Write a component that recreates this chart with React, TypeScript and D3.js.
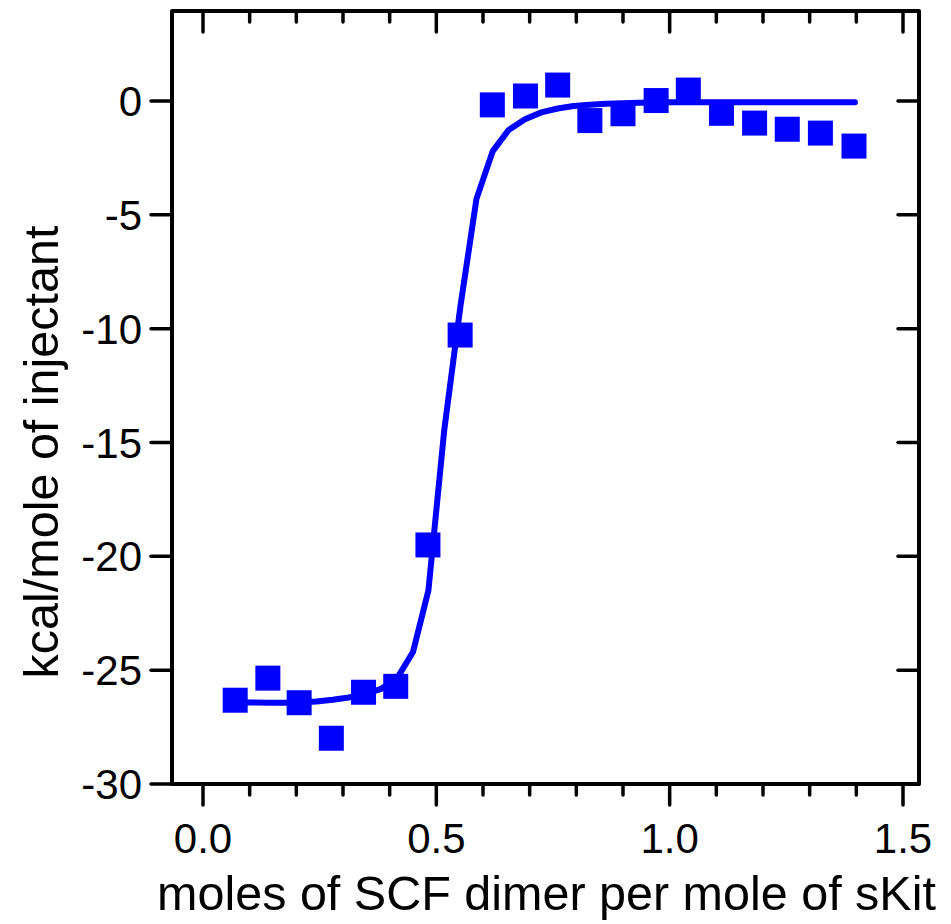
import React from "react";
import * as d3 from "d3";

const moleRatio = [0.069, 0.139, 0.206, 0.275, 0.344, 0.413, 0.482, 0.551, 0.620, 0.691, 0.760, 0.829, 0.900, 0.971, 1.040, 1.111, 1.182, 1.252, 1.323, 1.395];
const heat = [-26.32, -25.35, -26.43, -27.99, -25.97, -25.71, -19.5, -10.28, -0.17, 0.22, 0.7, -0.86, -0.56, 0.02, 0.48, -0.54, -0.97, -1.24, -1.41, -1.98];

const fitX = [0.069, 0.104, 0.139, 0.173, 0.208, 0.243, 0.278, 0.312, 0.347, 0.382, 0.416, 0.450, 0.483, 0.517, 0.552, 0.586, 0.621, 0.655, 0.690, 0.725, 0.760, 0.794, 0.829, 0.864, 0.899, 0.934, 0.968, 1.003, 1.100, 1.200, 1.300, 1.397];
const fitY = [-26.40, -26.42, -26.43, -26.43, -26.42, -26.38, -26.30, -26.20, -26.05, -25.82, -25.35, -24.20, -21.50, -14.45, -8.96, -4.30, -2.20, -1.27, -0.80, -0.50, -0.33, -0.22, -0.16, -0.12, -0.10, -0.08, -0.07, -0.06, -0.06, -0.05, -0.05, -0.05];

const xMajor = [0.0, 0.5, 1.0, 1.5];
const xMinor = [0.1, 0.2, 0.3, 0.4, 0.6, 0.7, 0.8, 0.9, 1.1, 1.2, 1.3, 1.4];
const yTicks = [0, -5, -10, -15, -20, -25, -30];
const xTickLabels = ["0.0", "0.5", "1.0", "1.5"];

const xTitle = "moles of SCF dimer per mole of sKit";
const yTitle = "kcal/mole of injectant";

export default function App() {
  const W = 951, H = 924;
  const L = 172, R = 919, T = 11, B = 784;
  const x = d3.scaleLinear().domain([0, 1.5]).range([203, 903]);
  const y = d3.scaleLinear().domain([-30, 0]).range([B, 101]);
  const line = d3.line<number>().x((d, i) => x(fitX[i])).y((d) => y(d));
  const sq = 25;
  const font = "'Liberation Sans', Arial, sans-serif";
  const tickW = 3.5;
  const maj = 21, mnr = 11;

  return (
    <svg width={W} height={H} style={{ position: "absolute", left: 0, top: 0 }}>
      <rect x={0} y={0} width={W} height={H} fill="#fff" />
      <path d={line(fitY) || ""} fill="none" stroke="#0000ff" strokeWidth={6} strokeLinecap="round" strokeLinejoin="round" />
      {moleRatio.map((m, i) => (
        <rect key={i} x={x(m) - sq / 2} y={y(heat[i]) - sq / 2} width={sq} height={sq} fill="#0000ff" />
      ))}
      <g stroke="#000" strokeWidth={tickW} strokeLinecap="round">
        {xMajor.map((v) => (
          <g key={"xm" + v}>
            <line x1={x(v)} x2={x(v)} y1={B} y2={B + maj} />
            <line x1={x(v)} x2={x(v)} y1={T} y2={T + maj} />
          </g>
        ))}
        {xMinor.map((v) => (
          <g key={"xn" + v}>
            <line x1={x(v)} x2={x(v)} y1={B} y2={B + mnr} />
            <line x1={x(v)} x2={x(v)} y1={T} y2={T + mnr} />
          </g>
        ))}
        {yTicks.map((v) => (
          <g key={"y" + v}>
            <line x1={L - maj} x2={L} y1={y(v)} y2={y(v)} />
            <line x1={R - maj} x2={R} y1={y(v)} y2={y(v)} />
          </g>
        ))}
      </g>
      <rect x={L} y={T} width={R - L} height={B - T} fill="none" stroke="#000" strokeWidth={4} strokeLinejoin="round" />
      <g fontFamily={font} fontSize={42} fill="#000">
        {xMajor.map((v, i) => (
          <text key={"xl" + v} x={x(v)} y={853} textAnchor="middle">{xTickLabels[i]}</text>
        ))}
        {yTicks.map((v) => (
          <text key={"yl" + v} x={142} y={y(v) + 15} textAnchor="end">{String(v)}</text>
        ))}
      </g>
      <text x={(L + R) / 2 + 1} y={910} textAnchor="middle" fontFamily={font} fontSize={48.5} fill="#000">{xTitle}</text>
      <text transform={`translate(58,452) rotate(-90)`} textAnchor="middle" fontFamily={font} fontSize={48.5} fill="#000">{yTitle}</text>
    </svg>
  );
}
